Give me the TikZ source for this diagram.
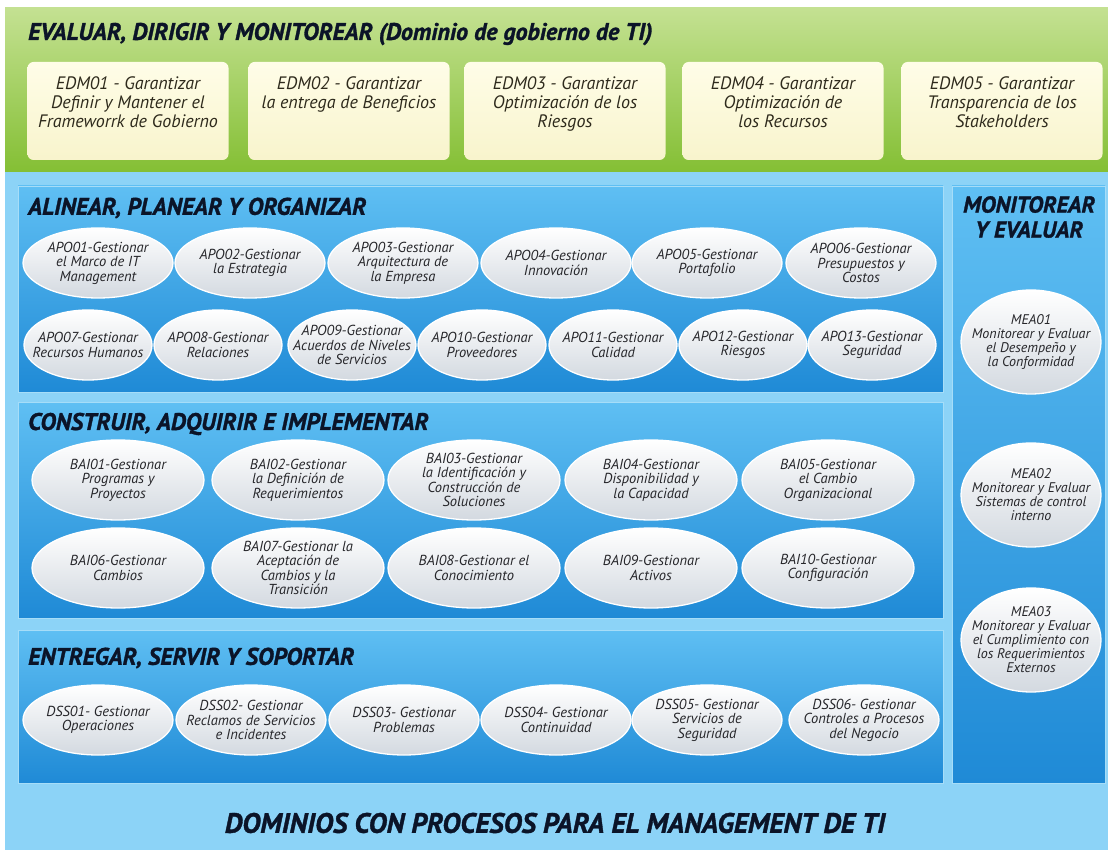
\documentclass[tikz,border=0pt]{standalone}
\usepackage{fontspec}
\setmainfont{PT Sans}
\newfontfamily\heavyfont{PT Sans}[FakeBold=1.3]
\usepackage{tikz}
\usetikzlibrary{shapes.geometric,positioning}
\definecolor{skyback}{HTML}{8CD3F7}
\definecolor{greentop}{HTML}{C4E192}
\definecolor{greenbot}{HTML}{84BF34}
\definecolor{edmtop}{HTML}{FFFDE8}
\definecolor{edmbot}{HTML}{F8F4CC}
\definecolor{edmink}{HTML}{2E2A1C}
\definecolor{paneltop}{HTML}{5FBFF3}
\definecolor{panelbot}{HTML}{1F8AD6}
\definecolor{panelrim}{HTML}{A6DDF8}
\definecolor{procbot}{HTML}{D3D9E0}
\definecolor{procink}{HTML}{26262A}
\definecolor{titleink}{HTML}{0B1428}
\tikzstyle{domtitle} = [inner sep=0pt,text=titleink,font=\fontsize{24}{27}\heavyfont\bfseries\itshape]

\begin{document}
\begin{tikzpicture}[x=1pt,y=-1pt]
    \tikzstyle{edmbox}=[rounded corners=6pt,top color=edmtop,bottom color=edmbot,minimum width=201pt,minimum height=98pt]
    \tikzstyle{edmtext}=[inner sep=0pt,align=center,text=edmink,font=\fontsize{18}{19}\selectfont\itshape]
    \tikzstyle{panel}=[draw=panelrim,line width=0.8pt,top color=paneltop,bottom color=panelbot]
    \tikzstyle{proc}=[ellipse,draw=white,line width=1.3pt,top color=white,bottom color=procbot,
        align=center,inner xsep=-30pt,inner ysep=-12pt,text=procink,font=\fontsize{14.5}{14.5}\selectfont\itshape]
    \tikzstyle{apo}=[proc,minimum width=150pt,minimum height=70pt]
    \tikzstyle{apob}=[proc,minimum width=128pt,minimum height=70pt]
    \tikzstyle{bai}=[proc,minimum width=172pt,minimum height=80pt]
    \tikzstyle{dss}=[proc,minimum width=150pt,minimum height=70pt]
    \tikzstyle{mea}=[proc,minimum width=140pt,minimum height=104pt,font=\fontsize{14}{14}\selectfont\itshape]

    \useasboundingbox (0,0) rectangle (1108,850);
    \fill[white] (0,0) rectangle (1108,850);

    % gobierno band
    \fill[top color=greentop,bottom color=greenbot] (5,8) rectangle (1108,172);
    \fill[skyback] (5,172) rectangle (1108,850);
    \node[domtitle,anchor=west] (edmtitle) at (28,34)
    {EVALUAR, DIRIGIR Y MONITOREAR (Dominio de gobierno de TI)};

    \node[edmbox] (edm1) at (128,111) {};
    \node[edmbox] (edm2) at (349,111) {};
    \node[edmbox] (edm3) at (565,111) {};
    \node[edmbox] (edm4) at (783,111) {};
    \node[edmbox] (edm5) at (1002,111) {};
    \node[edmtext,below=15pt of edm1.north] (edm1t)
    {EDM01 - Garantizar\\Definir y Mantener el\\Frameworrk de Gobierno};
    \node[edmtext,below=15pt of edm2.north] (edm2t)
    {EDM02 - Garantizar\\la entrega de Beneficios};
    \node[edmtext,below=15pt of edm3.north] (edm3t)
    {EDM03 - Garantizar\\Optimización de los\\Riesgos};
    \node[edmtext,below=15pt of edm4.north] (edm4t)
    {EDM04 - Garantizar\\Optimización de\\los Recursos};
    \node[edmtext,below=15pt of edm5.north] (edm5t)
    {EDM05 - Garantizar\\Transparencia de los\\Stakeholders};

    % management panels
    \draw[panel] (18,186) rectangle (943,392);
    \draw[panel] (18,402) rectangle (943,618);
    \draw[panel] (18,630) rectangle (943,783);
    \draw[panel] (952,186) rectangle (1105,783);

    \node[domtitle,anchor=west] (apotitle) at (28,208) {ALINEAR, PLANEAR Y ORGANIZAR};
    \node[apo] (apo01) at (98,263) {APO01-Gestionar\\el Marco de IT\\Management};
    \node[apo] (apo02) at (250,263) {APO02-Gestionar\\la Estrategia};
    \node[apo] (apo03) at (403,263) {APO03-Gestionar\\Arquitectura de\\la Empresa};
    \node[apo] (apo04) at (556,263) {APO04-Gestionar\\Innovación};
    \node[apo] (apo05) at (707,263) {APO05-Gestionar\\Portafolio};
    \node[apo] (apo06) at (861,263) {APO06-Gestionar\\Presupuestos y\\Costos};
    \node[apob] (apo07) at (88,345) {APO07-Gestionar\\Recursos Humanos};
    \node[apob] (apo08) at (218,345) {APO08-Gestionar\\Relaciones};
    \node[apob] (apo09) at (352,345) {APO09-Gestionar\\Acuerdos de Niveles\\de Servicios};
    \node[apob] (apo10) at (482,345) {APO10-Gestionar\\Proveedores};
    \node[apob] (apo11) at (613,345) {APO11-Gestionar\\Calidad};
    \node[apob] (apo12) at (743,345) {APO12-Gestionar\\Riesgos};
    \node[apob] (apo13) at (872,345) {APO13-Gestionar\\Seguridad};

    \node[domtitle,anchor=west] (baititle) at (28,424) {CONSTRUIR, ADQUIRIR E IMPLEMENTAR};
    \node[bai] (bai01) at (118,480) {BAI01-Gestionar\\Programas y\\Proyectos};
    \node[bai] (bai02) at (298,480) {BAI02-Gestionar\\la Definición de\\Requerimientos};
    \node[bai] (bai03) at (474,480) {BAI03-Gestionar\\la Identificación y\\Construcción de\\Soluciones};
    \node[bai] (bai04) at (651,480) {BAI04-Gestionar\\Disponibilidad y\\la Capacidad};
    \node[bai] (bai05) at (828,480) {BAI05-Gestionar\\el Cambio\\Organizacional};
    \node[bai] (bai06) at (118,568) {BAI06-Gestionar\\Cambios};
    \node[bai] (bai07) at (298,568) {BAI07-Gestionar la\\Aceptación de\\Cambios y la\\Transición};
    \node[bai] (bai08) at (474,568) {BAI08-Gestionar el\\Conocimiento};
    \node[bai] (bai09) at (651,568) {BAI09-Gestionar\\Activos};
    \node[bai] (bai10) at (828,568) {BAI10-Gestionar\\Configuración};

    \node[domtitle,anchor=west] (dsstitle) at (28,658) {ENTREGAR, SERVIR Y SOPORTAR};
    \node[dss] (dss01) at (98,720) {DSS01- Gestionar\\Operaciones};
    \node[dss] (dss02) at (251,720) {DSS02- Gestionar\\Reclamos de Servicios\\e Incidentes};
    \node[dss] (dss03) at (404,720) {DSS03- Gestionar\\Problemas};
    \node[dss] (dss04) at (556,720) {DSS04- Gestionar\\Continuidad};
    \node[dss] (dss05) at (707,720) {DSS05- Gestionar\\Servicios de\\Seguridad};
    \node[dss] (dss06) at (864,720) {DSS06- Gestionar\\Controles a Procesos\\del Negocio};

    \node[domtitle,align=center,font=\fontsize{23}{25}\heavyfont\bfseries\itshape] (meatitle) at (1029,217)
    {MONITOREAR\\Y EVALUAR};
    \node[mea] (mea01) at (1031,342) {MEA01\\Monitorear y Evaluar\\el Desempeño y\\la Conformidad};
    \node[mea] (mea02) at (1031,495) {MEA02\\Monitorear y Evaluar\\Sistemas de control\\interno};
    \node[mea] (mea03) at (1031,640) {MEA03\\Monitorear y Evaluar\\el Cumplimiento con\\los Requerimientos\\Externos};

    \node[domtitle,font=\fontsize{28}{30}\heavyfont\bfseries\itshape] (mgmttitle) at (555,823)
    {DOMINIOS CON PROCESOS PARA EL MANAGEMENT DE TI};
\end{tikzpicture}
\end{document}
